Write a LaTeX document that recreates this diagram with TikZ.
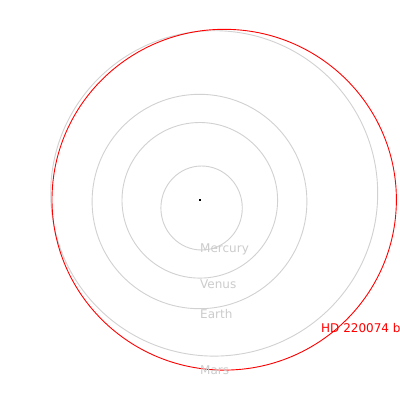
\documentclass[tikz,border=0pt]{standalone}
\usepackage{fontspec}
\setmainfont{DejaVu Sans}
\begin{document}
\begin{tikzpicture}[x=1bp,y=-1bp,
  orbit/.style={draw=black!18, line width=0.9bp},
  planetlabel/.style={anchor=base west, inner sep=0pt, text=black!20, font=\fontsize{12bp}{14bp}\selectfont},
  hdlabel/.style={anchor=base west, inner sep=0pt, text=red, font=\fontsize{12bp}{14bp}\selectfont}]
\useasboundingbox (0,0) rectangle (400,400);
\fill[white] (0,0) rectangle (400,400);
\draw[orbit] (201.6,208) ellipse [x radius=40.7, y radius=42];
\draw[orbit] (199.8,200.3) ellipse [x radius=77.8, y radius=77.8];
\draw[orbit] (199.5,201.5) ellipse [x radius=107.4, y radius=107.2];
\draw[orbit] (214.2,193.4) ellipse [x radius=163.5, y radius=162.7];
\draw[draw=red, line width=0.9bp] (224.2,199.7) ellipse [x radius=172.2, y radius=170.4];
\fill[black] (199.3,199.3) rectangle (200.7,200.7);
\node[planetlabel] (mercury) at (200,252.3) {Mercury};
\node[planetlabel] (venus) at (200,288.3) {Venus};
\node[planetlabel] (earth) at (200,318.3) {Earth};
\node[planetlabel] (mars) at (200,374) {Mars};
\node[hdlabel] (hd) at (321,332.3) {HD 220074 b};
\end{tikzpicture}
\end{document}
